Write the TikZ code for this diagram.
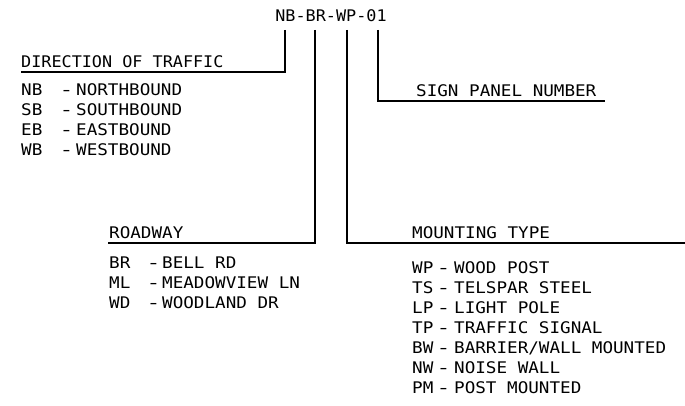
\documentclass[tikz,border=0pt]{standalone}
\usepackage{fontspec}
\newfontfamily\cadfont[FakeStretch=1.1]{DejaVu Sans Mono}
\newfontfamily\cadnarrow[FakeStretch=1.05]{DejaVu Sans Mono}
\begin{document}
\begin{tikzpicture}[x=1pt,y=-1pt,
  txt/.style={inner sep=0pt,anchor=base west,font=\cadfont\fontsize{16}{19}\selectfont},
  txtn/.style={txt,font=\cadnarrow\fontsize{16}{19}\selectfont},
  dsh/.style={inner sep=0pt,anchor=base,font=\cadfont\fontsize{16}{19}\selectfont},
  lead/.style={line width=1.1pt,black}]
\useasboundingbox (0,0) rectangle (685,406);
\newcommand{\cdash}{\scalebox{1.3}[1]{-}}
% title
\node[txtn,anchor=base] (title) at (331,22) {NB-BR-WP-01};
\coordinate (tNB) at (285,30);
\coordinate (tBR) at (315,30);
\coordinate (tWP) at (347,30);
\coordinate (tNO) at (378,30);
% corners and ends
\coordinate (cNB) at (285,72);
\coordinate (eNB) at (21,72);
\coordinate (cNO) at (378,101);
\coordinate (eNO) at (605,101);
\coordinate (cBR) at (315,243);
\coordinate (eBR) at (108,243);
\coordinate (cWP) at (347,243);
\coordinate (eWP) at (685,243);
\draw[lead] (tNB) -- (cNB) -- (eNB);
\draw[lead] (tNO) -- (cNO) -- (eNO);
\draw[lead] (tBR) -- (cBR) -- (eBR);
\draw[lead] (tWP) -- (cWP) -- (eWP);
% direction of traffic
\node[txtn] (hdir) at (21,68) {DIRECTION OF TRAFFIC};
\node[txt] (nbc) at (21,96) {NB};  \node[dsh] (nbd) at (66.5,96) {\cdash};  \node[txt] (nbt) at (76,96) {NORTHBOUND};
\node[txt] (sbc) at (21,116) {SB}; \node[dsh] (sbd) at (66.5,116) {\cdash}; \node[txt] (sbt) at (76,116) {SOUTHBOUND};
\node[txt] (ebc) at (21,136) {EB}; \node[dsh] (ebd) at (66.5,136) {\cdash}; \node[txt] (ebt) at (76,136) {EASTBOUND};
\node[txt] (wbc) at (21,156) {WB}; \node[dsh] (wbd) at (66.5,156) {\cdash}; \node[txt] (wbt) at (76,156) {WESTBOUND};
% sign panel
\node[txt] (hsp) at (416,97) {SIGN PANEL NUMBER};
% roadway
\node[txt] (hrd) at (109,238) {ROADWAY};
\node[txt] (brc) at (109,268) {BR}; \node[dsh] (brd) at (153.5,268) {\cdash}; \node[txt] (brt) at (162,268) {BELL RD};
\node[txt] (mlc) at (109,288) {ML}; \node[dsh] (mld) at (153.5,288) {\cdash}; \node[txt] (mlt) at (162,288) {MEADOWVIEW LN};
\node[txt] (wdc) at (109,308) {WD}; \node[dsh] (wdd) at (153.5,308) {\cdash}; \node[txt] (wdt) at (162,308) {WOODLAND DR};
% mounting type
\node[txt] (hmt) at (412,238) {MOUNTING TYPE};
\node[txt] (wpc) at (412,273) {WP}; \node[dsh] (wpd) at (443.5,273) {\cdash}; \node[txt] (wpt) at (454,273) {WOOD POST};
\node[txt] (tsc) at (412,293) {TS}; \node[dsh] (tsd) at (443.5,293) {\cdash}; \node[txt] (tst) at (454,293) {TELSPAR STEEL};
\node[txt] (lpc) at (412,313) {LP}; \node[dsh] (lpd) at (443.5,313) {\cdash}; \node[txt] (lpt) at (454,313) {LIGHT POLE};
\node[txt] (tpc) at (412,333) {TP}; \node[dsh] (tpd) at (443.5,333) {\cdash}; \node[txt] (tpt) at (454,333) {TRAFFIC SIGNAL};
\node[txt] (bwc) at (412,353) {BW}; \node[dsh] (bwd) at (443.5,353) {\cdash}; \node[txt] (bwt) at (454,353) {BARRIER/WALL MOUNTED};
\node[txt] (nwc) at (412,373) {NW}; \node[dsh] (nwd) at (443.5,373) {\cdash}; \node[txt] (nwt) at (454,373) {NOISE WALL};
\node[txt] (pmc) at (412,393) {PM}; \node[dsh] (pmd) at (443.5,393) {\cdash}; \node[txt] (pmt) at (454,393) {POST MOUNTED};
\end{tikzpicture}
\end{document}
